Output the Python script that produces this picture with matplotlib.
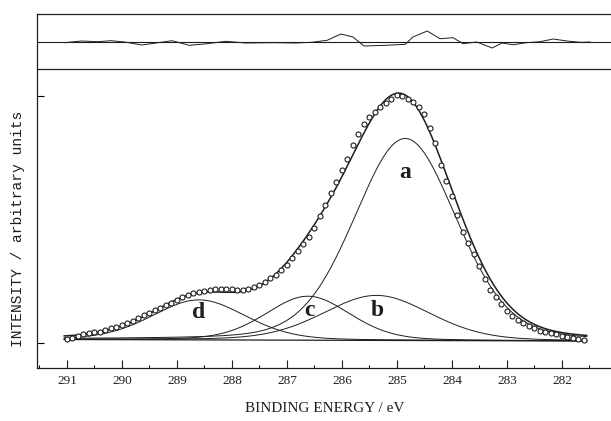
#!/usr/bin/env python3
"""C 1s XPS spectrum with curve-fit components (a-d) and residual panel."""

import matplotlib

matplotlib.use("Agg")
import matplotlib.pyplot as plt
import numpy as np
from matplotlib.ticker import MultipleLocator

# measured spectrum (binding energy / eV, intensity / arb. units)
BE_EV = [
    291.0, 290.9, 290.8, 290.7, 290.6, 290.5, 290.4, 290.3, 290.2, 290.1,
    290.0, 289.9, 289.8, 289.7, 289.6, 289.5, 289.4, 289.3, 289.2, 289.1,
    289.0, 288.9, 288.8, 288.7, 288.6, 288.5, 288.4, 288.3, 288.2, 288.1,
    288.0, 287.9, 287.8, 287.7, 287.6, 287.5, 287.4, 287.3, 287.2, 287.1,
    287.0, 286.9, 286.8, 286.7, 286.6, 286.5, 286.4, 286.3, 286.2, 286.1,
    286.0, 285.9, 285.8, 285.7, 285.6, 285.5, 285.4, 285.3, 285.2, 285.1,
    285.0, 284.9, 284.8, 284.7, 284.6, 284.5, 284.4, 284.3, 284.2, 284.1,
    284.0, 283.9, 283.8, 283.7, 283.6, 283.5, 283.4, 283.3, 283.2, 283.1,
    283.0, 282.9, 282.8, 282.7, 282.6, 282.5, 282.4, 282.3, 282.2, 282.1,
    282.0, 281.9, 281.8, 281.7, 281.6,
]
INTENSITY = [
    4, 5, 7, 9, 10, 11, 11, 13, 15, 16,
    18, 20, 22, 25, 28, 30, 33, 35, 38, 40,
    43, 46, 48, 50, 51, 52, 53, 54, 54, 54,
    54, 53, 53, 54, 56, 58, 61, 65, 68, 73,
    78, 85, 92, 99, 106, 115, 127, 138, 150, 161,
    173, 184, 198, 209, 219, 226, 231, 236, 240, 244,
    248, 247, 244, 241, 236, 229, 215, 200, 178, 162,
    147, 128, 111, 100, 89, 77, 64, 53, 46, 39,
    32, 27, 23, 20, 17, 15, 12, 11, 10, 9,
    7, 6, 5, 4, 3,
]

# fit residual (upper panel)
RESID_EV = [
    291.05, 290.73, 290.45, 290.20, 289.95, 289.64, 289.38, 289.09, 288.78,
    288.45, 288.11, 287.75, 287.25, 286.84, 286.55, 286.27, 286.02, 285.80,
    285.60, 285.20, 284.85, 284.71, 284.45, 284.22, 283.98, 283.80, 283.55,
    283.27, 283.09, 282.89, 282.64, 282.40, 282.16, 281.91, 281.67, 281.49,
]
RESIDUAL = [
    -0.7, 1.0, 0.3, 1.3, 0.0, -3.0, -1.0, 1.3, -3.3,
    -1.7, 0.7, -1.0, -0.7, -1.0, -0.3, 1.7, 8.0, 5.0,
    -4.0, -3.3, -2.3, 5.0, 11.0, 3.3, 4.3, -1.7, 0.0,
    -6.0, -1.0, -2.7, -0.7, 0.3, 3.0, 1.0, -0.3, 0.0,
]

# fitted components (Gaussian-Lorentzian, on a linear background)
PEAK_LABELS = ["a", "b", "c", "d"]
PEAK_CENTER = [284.85, 285.37, 286.62, 288.60]
PEAK_HEIGHT = [202, 45, 44, 40]
PEAK_FWHM = [2.2, 2.3, 1.8, 2.0]
PEAK_LABEL_POS = [(284.85, 170), (285.35, 33), (286.60, 32), (288.60, 30)]
GL_MIX = 0.2
BG_EV = [291.05, 281.55]
BG_LEVEL = [3.5, 2.0]

INK = "#1e1e1e"


def gl_peak(x, center, height, fwhm, mix):
    u = (x - center) / fwhm
    gauss = np.exp(-4.0 * np.log(2.0) * u**2)
    lorentz = 1.0 / (1.0 + 4.0 * u**2)
    return height * ((1.0 - mix) * gauss + mix * lorentz)


def main():
    fig = plt.figure(figsize=(6.11, 4.21), dpi=100)
    left, right = 37 / 611, 1.0
    ax = fig.add_axes([left, 53 / 421, right - left, 299 / 421])
    ax_res = fig.add_axes([left, 352 / 421, right - left, 55 / 421], sharex=ax)

    xlim = (291.545, 281.109)

    # model curves
    grid = np.linspace(BG_EV[0], BG_EV[1], 500)
    bg = np.interp(grid, BG_EV[::-1], BG_LEVEL[::-1])
    envelope = bg.copy()
    for c, h, w in zip(PEAK_CENTER, PEAK_HEIGHT, PEAK_FWHM):
        comp = gl_peak(grid, c, h, w, GL_MIX)
        envelope += comp
        ax.plot(grid, bg + comp, color=INK, lw=0.7)
    ax.plot(grid, bg, color=INK, lw=0.9)
    ax.plot(grid, envelope, color=INK, lw=1.1)

    ax.plot(BE_EV, INTENSITY, linestyle="none", marker="o", ms=3.6,
            mfc="white", mec=INK, mew=0.8)

    for lab, (xe, yi) in zip(PEAK_LABELS, PEAK_LABEL_POS):
        ax.text(xe, yi, lab, ha="center", va="center", fontsize=17,
                fontweight="bold", family="Liberation Serif", color=INK)

    ax.set_xlim(*xlim)
    ax.set_ylim(-25, 274)
    ax.xaxis.set_major_locator(MultipleLocator(1))
    ax.xaxis.set_minor_locator(MultipleLocator(0.5))
    ax.set_xticks(np.arange(282, 292))
    ax.set_yticks([0, 247])
    ax.set_yticklabels([])
    ax.tick_params(axis="x", which="major", direction="in", length=6,
                   width=0.8, labelsize=9.5, pad=5, colors=INK)
    ax.tick_params(axis="x", which="minor", direction="in", length=2.5,
                   width=0.8)
    ax.tick_params(axis="y", direction="in", length=5, width=0.8)
    for lab in ax.get_xticklabels():
        lab.set_family("Liberation Serif")
    for side in ("top", "right"):
        ax.spines[side].set_visible(False)
    for side in ("left", "bottom"):
        ax.spines[side].set_linewidth(0.9)
        ax.spines[side].set_color(INK)

    # residual panel
    ax_res.axhline(0, color=INK, lw=0.8)
    ax_res.plot(RESID_EV, RESIDUAL, color=INK, lw=0.7)
    ax_res.set_ylim(-27, 28)
    ax_res.tick_params(axis="both", which="both", length=0,
                       labelbottom=False, labelleft=False)
    ax_res.spines["right"].set_visible(False)
    for side in ("left", "top", "bottom"):
        ax_res.spines[side].set_linewidth(0.9)
        ax_res.spines[side].set_color(INK)

    fig.text(325 / 611, 1 - 408 / 421, "BINDING ENERGY / eV", ha="center",
             va="center", fontsize=11, family="Liberation Serif", color=INK)
    fig.text(18 / 611, 1 - 229 / 421, "INTENSITY / arbitrary units",
             rotation=90, ha="center", va="center", fontsize=10.5,
             family="Liberation Mono", color=INK)

    fig.savefig("out.png", dpi=100)
    plt.close(fig)


if __name__ == "__main__":
    main()
